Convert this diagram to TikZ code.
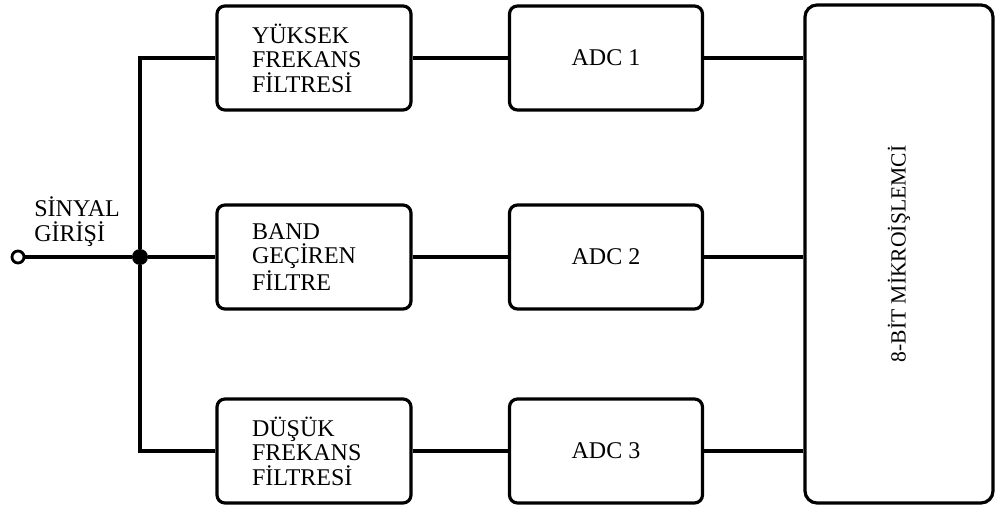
\documentclass[tikz,border=0pt]{standalone}
\usepackage{fontspec}
\setmainfont{Liberation Serif}
\usepackage{tikz}
\usetikzlibrary{positioning,calc}

\begin{document}
\begin{tikzpicture}[x=0.5pt,y=-0.5pt,
  wire/.style={line width=1.6pt},
  filterbox/.style={draw,line width=1.6pt,rounded corners=4pt,text width=62pt,inner xsep=17.5pt,
    minimum height=52pt,align=left,font=\fontsize{12}{12.3}\selectfont},
  adcbox/.style={draw,line width=1.6pt,rounded corners=4pt,minimum width=96.5pt,minimum height=52pt,
    font=\fontsize{12}{12.3}\selectfont}]
\useasboundingbox (0,0) rectangle (996,508);
% filters
\node[filterbox] (yf) at (314,58) {YÜKSEK\\FREKANS\\FİLTRESİ};
\node[filterbox] (bf) at (314,257) {BAND\\GEÇİREN\\FİLTRE};
\node[filterbox] (df) at (314,451) {DÜŞÜK\\FREKANS\\FİLTRESİ};
% converters
\node[adcbox] (adc1) at (606,58) {ADC 1};
\node[adcbox] (adc2) at (606,257) {ADC 2};
\node[adcbox] (adc3) at (606,451) {ADC 3};
% processor
\node[draw,line width=1.6pt,rounded corners=6pt,minimum width=94pt,minimum height=249pt,
  font=\fontsize{10.8}{12}\selectfont] (mcu) at (899,254)
  {\rotatebox{90}{8-BİT MİKROİŞLEMCİ}};
% input
\node[circle,draw,line width=1.4pt,fill=white,minimum size=6pt,inner sep=0pt] (in) at (18,257) {};
\node[circle,fill=black,minimum size=8pt,inner sep=0pt] (jn) at (140,257) {};
\node[anchor=south west,align=left,inner sep=0pt,font=\fontsize{12}{12.3}\selectfont] (lbl) at (34,247) {SİNYAL\\GİRİŞİ};
\draw[wire] (in) -- (jn) -- (bf);
\draw[wire] (jn) |- (yf);
\draw[wire] (jn) |- (df);
\draw[wire] (yf) -- (adc1);
\draw[wire] (bf) -- (adc2);
\draw[wire] (df) -- (adc3);
\draw[wire] (adc1) -- (adc1 -| mcu.west);
\draw[wire] (adc2) -- (adc2 -| mcu.west);
\draw[wire] (adc3) -- (adc3 -| mcu.west);
\end{tikzpicture}
\end{document}
